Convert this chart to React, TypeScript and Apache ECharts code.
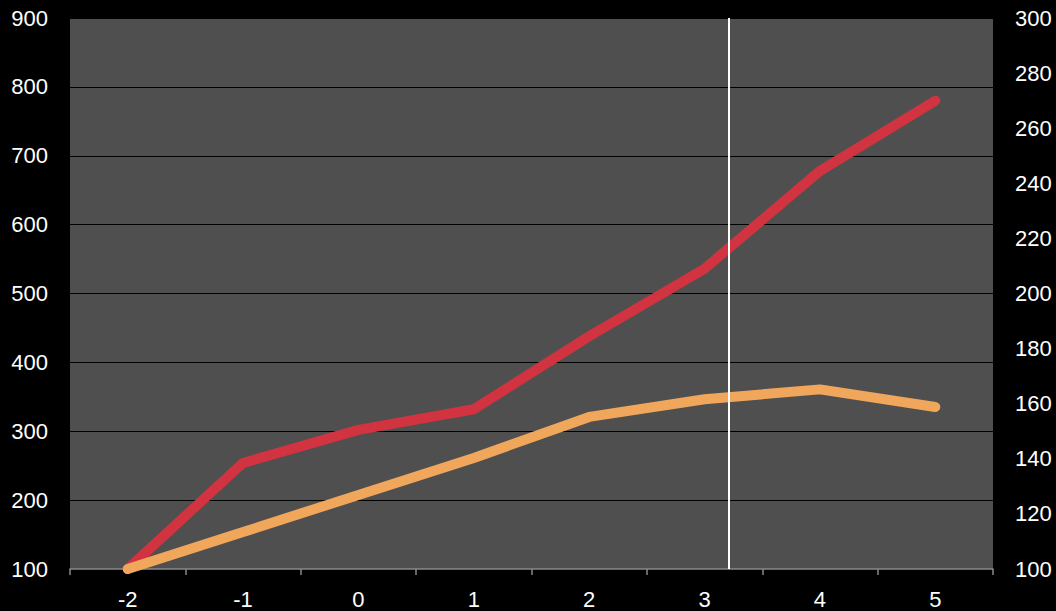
import React, { useEffect, useRef } from "react";
import * as echarts from "echarts";

const categories = ["-2", "-1", "0", "1", "2", "3", "4", "5"];
const redValues = [100, 254, 302, 332, 438, 536, 678, 780];
const orangeValues = [100, 113.4, 126.9, 140.3, 155.2, 161.6, 165.2, 158.8];
const markerX = 3.21;

export default function App() {
  const ref = useRef<HTMLDivElement>(null);
  useEffect(() => {
    if (!ref.current) return;
    const chart = echarts.init(ref.current, null, { renderer: "svg" });
    const font = "'Liberation Sans', Arial, sans-serif";
    chart.setOption({
      animation: false,
      backgroundColor: "#000000",
      grid: {
        left: 70,
        right: 63,
        top: 18,
        bottom: 42,
        show: true,
        backgroundColor: "#4f4f4f",
        borderWidth: 0,
      },
      xAxis: [
        {
          type: "category",
          data: categories,
          boundaryGap: true,
          axisLine: { show: true, lineStyle: { color: "#8a8a8a", width: 1.5 } },
          axisTick: { show: true, length: 6, lineStyle: { color: "#8a8a8a", width: 1.5 } },
          axisLabel: { color: "#ffffff", fontSize: 22, fontFamily: font, margin: 19 },
          splitLine: { show: false },
        },
        {
          type: "value",
          min: -2.5,
          max: 5.5,
          show: false,
          position: "bottom",
        },
      ],
      yAxis: [
        {
          type: "value",
          min: 100,
          max: 900,
          interval: 100,
          axisLine: { show: false },
          axisTick: { show: false },
          axisLabel: { color: "#ffffff", fontSize: 22, fontFamily: font, margin: 22 },
          splitLine: { show: true, lineStyle: { color: "#000000", width: 1 } },
        },
        {
          type: "value",
          min: 100,
          max: 300,
          interval: 20,
          position: "right",
          axisLine: { show: false },
          axisTick: { show: false },
          axisLabel: { color: "#ffffff", fontSize: 22, fontFamily: font, margin: 22 },
          splitLine: { show: false },
        },
      ],
      series: [
        {
          type: "line",
          xAxisIndex: 0,
          yAxisIndex: 0,
          data: redValues,
          symbol: "none",
          lineStyle: { color: "#d13440", width: 10, cap: "round", join: "bevel" },
          z: 2,
        },
        {
          type: "line",
          xAxisIndex: 0,
          yAxisIndex: 1,
          data: orangeValues,
          symbol: "none",
          lineStyle: { color: "#f0a75c", width: 10, cap: "round", join: "bevel" },
          z: 3,
        },
        {
          type: "line",
          xAxisIndex: 1,
          yAxisIndex: 0,
          data: [],
          symbol: "none",
          z: 5,
          markLine: {
            silent: true,
            symbol: "none",
            label: { show: false },
            lineStyle: { color: "#ffffff", width: 2, type: "solid" },
            data: [{ xAxis: markerX }],
            z: 5,
          },
        },
      ],
    });
    return () => chart.dispose();
  }, []);
  return (
    <div
      ref={ref}
      style={{ position: "fixed", left: 0, top: 0, width: 1056, height: 611 }}
    />
  );
}
